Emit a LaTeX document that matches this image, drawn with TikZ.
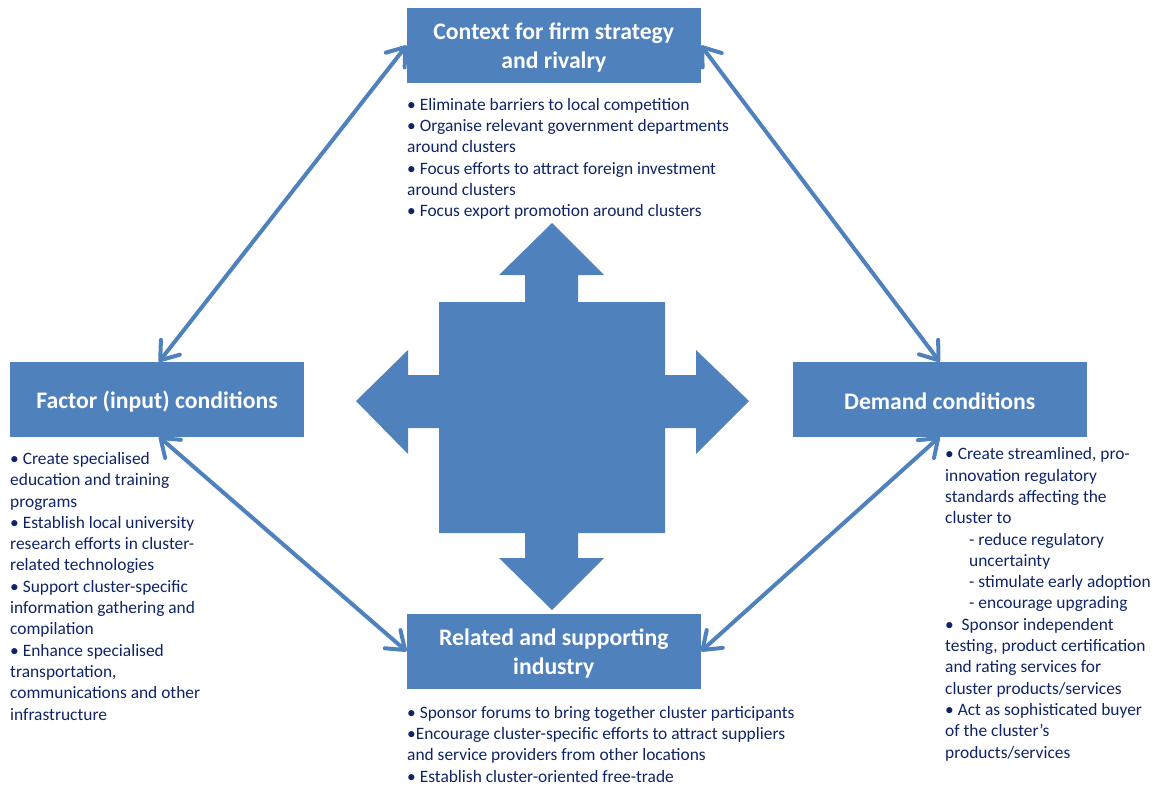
\documentclass[tikz,border=0pt]{standalone}
\usepackage{fontspec}
\setmainfont{Carlito}
\usetikzlibrary{arrows.meta}
\definecolor{boxblue}{HTML}{4F81BD}
\definecolor{navytext}{HTML}{0F2466}
\tikzset{
  titlebox/.style={fill=boxblue, draw=none, minimum width=294pt, minimum height=74.5pt,
    inner sep=0pt},
  titletext/.style={text=white, align=center, inner sep=0pt,
    font=\bfseries\fontsize{23.7}{28.7}\selectfont},
  listtext/.style={anchor=base west, inner sep=0pt, align=left, text=navytext,
    font=\fontsize{17.4}{21.3}\selectfont},
  barb/.style={Straight Barb[length=16.5pt,width=24pt,line cap=round,line join=round]},
  conn/.style={draw=boxblue, line width=4pt, line cap=round,
    arrows={Straight Barb[length=16.5pt,width=24pt,line cap=round,line join=round]-Straight Barb[length=16.5pt,width=24pt,line cap=round,line join=round]}}
}
\begin{document}
\begin{tikzpicture}[x=1pt,y=-1pt]
\useasboundingbox (0,0) rectangle (1157,785);
% central four-way arrow
\fill[boxblue] (552,223) -- (604,275) -- (578,275) -- (578,302) -- (665,302) -- (665,375)
  -- (696,375) -- (696,350) -- (749,401) -- (696,454) -- (696,428) -- (665,428)
  -- (665,533) -- (578,533) -- (578,558) -- (604,558) -- (552,610) -- (499,558)
  -- (525,558) -- (525,533) -- (439,533) -- (439,428) -- (408,428) -- (408,454)
  -- (356,401) -- (408,350) -- (408,375) -- (439,375) -- (439,302) -- (525,302)
  -- (525,275) -- (499,275) -- cycle;
% boxes
\node[titlebox] (tb) at (553.8,45.5) {};
\node[titlebox] (lb) at (157,399.3) {};
\node[titlebox] (rb) at (939.7,399.3) {};
\node[titlebox] (bb) at (553.8,651.3) {};
\node[titletext] (tbt) at ([yshift=-2pt]tb.center) {Context for firm strategy\\and rivalry};
\node[titletext] (lbt) at ([yshift=-2pt]lb.center) {Factor (input) conditions};
\node[titletext] (rbt) at ([yshift=-2pt]rb.center) {Demand conditions};
\node[titletext] (bbt) at ([yshift=-2pt]bb.center) {Related and supporting\\industry};
% connectors
\draw[conn] (tb.west) -- ([xshift=2pt]lb.north);
\draw[conn] (tb.east) -- (rb.north);
\draw[conn] ([xshift=2pt]lb.south) -- (bb.west);
\draw[conn] (rb.south) -- (bb.east);
% lists (anchored at the baseline of their last line)
\node[listtext] (tl) at (407,216.6) {• Eliminate barriers to local competition\\
• Organise relevant government departments\\
around clusters\\
• Focus efforts to attract foreign investment\\
around clusters\\
• Focus export promotion around clusters};
\node[listtext] (ll) at (10,720) {• Create specialised\\
education and training\\
programs\\
• Establish local university\\
research efforts in cluster-\\
related technologies\\
• Support cluster-specific\\
information gathering and\\
compilation\\
• Enhance specialised\\
transportation,\\
communications and other\\
infrastructure};
\node[listtext] (rl) at (945,758) {• Create streamlined, pro-\\
innovation regulatory\\
standards affecting the\\
cluster to\\
\hspace*{24pt}- reduce regulatory\\
\hspace*{24pt}uncertainty\\
\hspace*{24pt}- stimulate early adoption\\
\hspace*{24pt}- encourage upgrading\\
•\ \ Sponsor independent\\
testing, product certification\\
and rating services for\\
cluster products/services\\
• Act as sophisticated buyer\\
of the cluster’s\\
products/services};
\node[listtext] (bl) at (407,782) {• Sponsor forums to bring together cluster participants\\
•Encourage cluster-specific efforts to attract suppliers\\
and service providers from other locations\\
• Establish cluster-oriented free-trade};
\end{tikzpicture}
\end{document}
